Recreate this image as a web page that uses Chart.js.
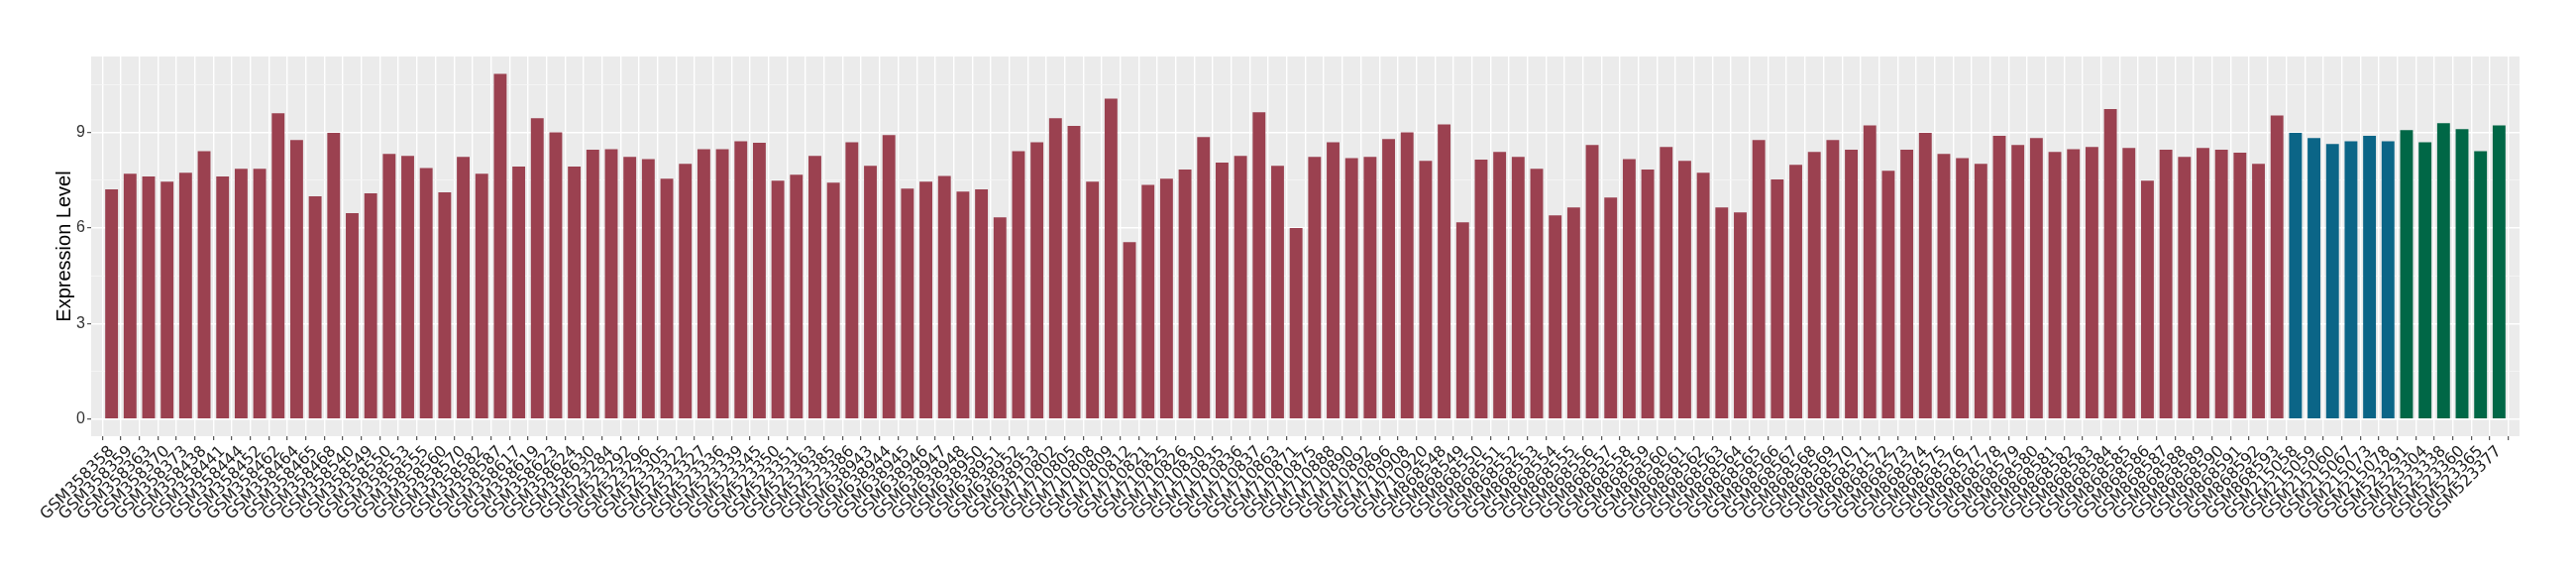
<!DOCTYPE html>
<html>
<head>
<meta charset="utf-8">
<script src="https://cdn.jsdelivr.net/npm/chart.js@4/dist/chart.umd.min.js"></script>
<style>
  html, body { margin: 0; padding: 0; background: #ffffff; }
  #wrap { width: 2600px; height: 580px; position: relative; }
</style>
</head>
<body>
<div id="wrap"><canvas id="c" width="2600" height="580"></canvas></div>
<script>
const sampleLabels = [
  "GSM358358","GSM358359","GSM358363","GSM358370","GSM358373","GSM358438","GSM358441","GSM358444","GSM358452","GSM358462",
  "GSM358464","GSM358465","GSM358468","GSM358540","GSM358549","GSM358550","GSM358553","GSM358555","GSM358560","GSM358570",
  "GSM358582","GSM358587","GSM358617","GSM358619","GSM358623","GSM358624","GSM358630","GSM523284","GSM523292","GSM523296",
  "GSM523305","GSM523322","GSM523327","GSM523336","GSM523339","GSM523345","GSM523350","GSM523351","GSM523363","GSM523385",
  "GSM523386","GSM638943","GSM638944","GSM638945","GSM638946","GSM638947","GSM638948","GSM638950","GSM638951","GSM638952",
  "GSM638953","GSM710802","GSM710805","GSM710808","GSM710809","GSM710812","GSM710821","GSM710825","GSM710826","GSM710830",
  "GSM710835","GSM710836","GSM710837","GSM710863","GSM710871","GSM710875","GSM710888","GSM710890","GSM710892","GSM710896",
  "GSM710908","GSM710920","GSM868548","GSM868549","GSM868550","GSM868551","GSM868552","GSM868553","GSM868554","GSM868555",
  "GSM868556","GSM868557","GSM868558","GSM868559","GSM868560","GSM868561","GSM868562","GSM868563","GSM868564","GSM868565",
  "GSM868566","GSM868567","GSM868568","GSM868569","GSM868570","GSM868571","GSM868572","GSM868573","GSM868574","GSM868575",
  "GSM868576","GSM868577","GSM868578","GSM868579","GSM868580","GSM868581","GSM868582","GSM868583","GSM868584","GSM868585",
  "GSM868586","GSM868587","GSM868588","GSM868589","GSM868590","GSM868591","GSM868592","GSM868593",
  "GSM215058","GSM215059","GSM215060","GSM215067","GSM215073","GSM215078",
  "GSM523291","GSM523304","GSM523338","GSM523360","GSM523365","GSM523377"
];

const expressionLevel = [
  7.22, 7.71, 7.62, 7.46, 7.74, 8.42, 7.62, 7.86, 7.86, 9.61,
  8.77, 7.00, 8.99, 6.47, 7.09, 8.33, 8.27, 7.89, 7.12, 8.24,
  7.71, 10.85, 7.93, 9.45, 9.01, 7.93, 8.46, 8.48, 8.24, 8.17,
  7.55, 8.02, 8.48, 8.48, 8.73, 8.68, 7.49, 7.68, 8.27, 7.43,
  8.70, 7.96, 8.92, 7.24, 7.46, 7.64, 7.15, 7.22, 6.34, 8.42,
  8.70, 9.45, 9.21, 7.46, 10.07, 5.56, 7.36, 7.55, 7.84, 8.86,
  8.06, 8.27, 9.64, 7.96, 6.00, 8.24, 8.70, 8.20, 8.24, 8.80,
  9.01, 8.11, 9.26, 6.18, 8.15, 8.39, 8.24, 7.86, 6.40, 6.65,
  8.61, 6.96, 8.17, 7.84, 8.55, 8.11, 7.74, 6.65, 6.49, 8.77,
  7.53, 7.99, 8.39, 8.77, 8.46, 9.23, 7.80, 8.46, 8.99, 8.33,
  8.20, 8.02, 8.90, 8.61, 8.83, 8.39, 8.48, 8.55, 9.74, 8.52,
  7.49, 8.46, 8.24, 8.52, 8.46, 8.37, 8.02, 9.54,
  8.99, 8.83, 8.64, 8.73, 8.90, 8.73,
  9.08, 8.70, 9.30, 9.11, 8.42, 9.23
];

// group of each sample (same order as sampleLabels)
const groupSizes = { tumor: 118, normalA: 6, normalB: 6 };
const groupColors = { tumor: "#9B4150", normalA: "#0B6587", normalB: "#006746" };

const yTickValues = [0, 3, 6, 9];
const yMinorValues = [1.5, 4.5, 7.5, 10.5];

const sampleGroup = [];
Object.keys(groupSizes).forEach(g => { for (let i = 0; i < groupSizes[g]; i++) sampleGroup.push(g); });

const points = expressionLevel.map((v, i) => ({ x: i, y: v }));
const barColors = sampleGroup.map(g => groupColors[g]);

const yMaxData = Math.max(...expressionLevel);
const yPad = yMaxData * 0.05;
const nCat = sampleLabels.length;

const panelBg = {
  id: 'panelBg',
  beforeDraw(chart) {
    const { ctx, chartArea: a } = chart;
    ctx.save();
    ctx.fillStyle = '#EBEBEB';
    ctx.fillRect(a.left, a.top, a.right - a.left, a.bottom - a.top);
    ctx.restore();
  }
};

const isMajorY = v => yTickValues.some(t => Math.abs(t - v) < 1e-6);

new Chart(document.getElementById('c'), {
  type: 'bar',
  data: {
    datasets: [{
      data: points,
      backgroundColor: barColors,
      borderWidth: 0,
      barPercentage: 0.69,
      categoryPercentage: 1.0
    }]
  },
  plugins: [panelBg],
  options: {
    responsive: false,
    animation: false,
    events: [],
    layout: { padding: { left: 0, right: 57, top: 57, bottom: 0 } },
    plugins: { legend: { display: false }, tooltip: { enabled: false } },
    scales: {
      x: {
        type: 'linear',
        min: -0.6,
        max: nCat - 1 + 0.6,
        afterBuildTicks(scale) {
          scale.ticks = sampleLabels.map((_, i) => ({ value: i }));
        },
        afterFit(scale) { scale.height = 140; },
        ticks: {
          autoSkip: false,
          maxRotation: 45,
          minRotation: 45,
          padding: 2,
          color: '#1e1e1e',
          font: { family: 'DejaVu Sans', size: 16 },
          callback: (v) => sampleLabels[Math.round(v)]
        },
        grid: {
          color: '#FFFFFF',
          lineWidth: 1.4,
          tickColor: '#333333',
          tickLength: 4,
          tickWidth: 1
        },
        border: { display: false }
      },
      y: {
        min: -yPad,
        max: yMaxData + yPad,
        afterBuildTicks(scale) {
          scale.ticks = [...yTickValues, ...yMinorValues].sort((a, b) => a - b).map(v => ({ value: v }));
        },
        afterFit(scale) { scale.width = 92; },
        ticks: {
          autoSkip: false,
          padding: 2,
          color: '#333333',
          font: { family: 'Liberation Sans', size: 16 },
          callback: (v) => isMajorY(v) ? String(v) : ''
        },
        grid: {
          color: (ctx) => isMajorY(ctx.tick.value) ? '#FFFFFF' : '#F6F6F6',
          lineWidth: (ctx) => isMajorY(ctx.tick.value) ? 1.4 : 0.8,
          tickColor: (ctx) => isMajorY(ctx.tick.value) ? '#333333' : 'rgba(0,0,0,0)',
          tickLength: 4,
          tickWidth: 1
        },
        border: { display: false },
        title: {
          display: true,
          text: 'Expression Level',
          color: '#000000',
          font: { family: 'Liberation Sans', size: 20 },
          padding: { top: 53, bottom: 0 }
        }
      }
    }
  }
});
</script>
</body>
</html>
